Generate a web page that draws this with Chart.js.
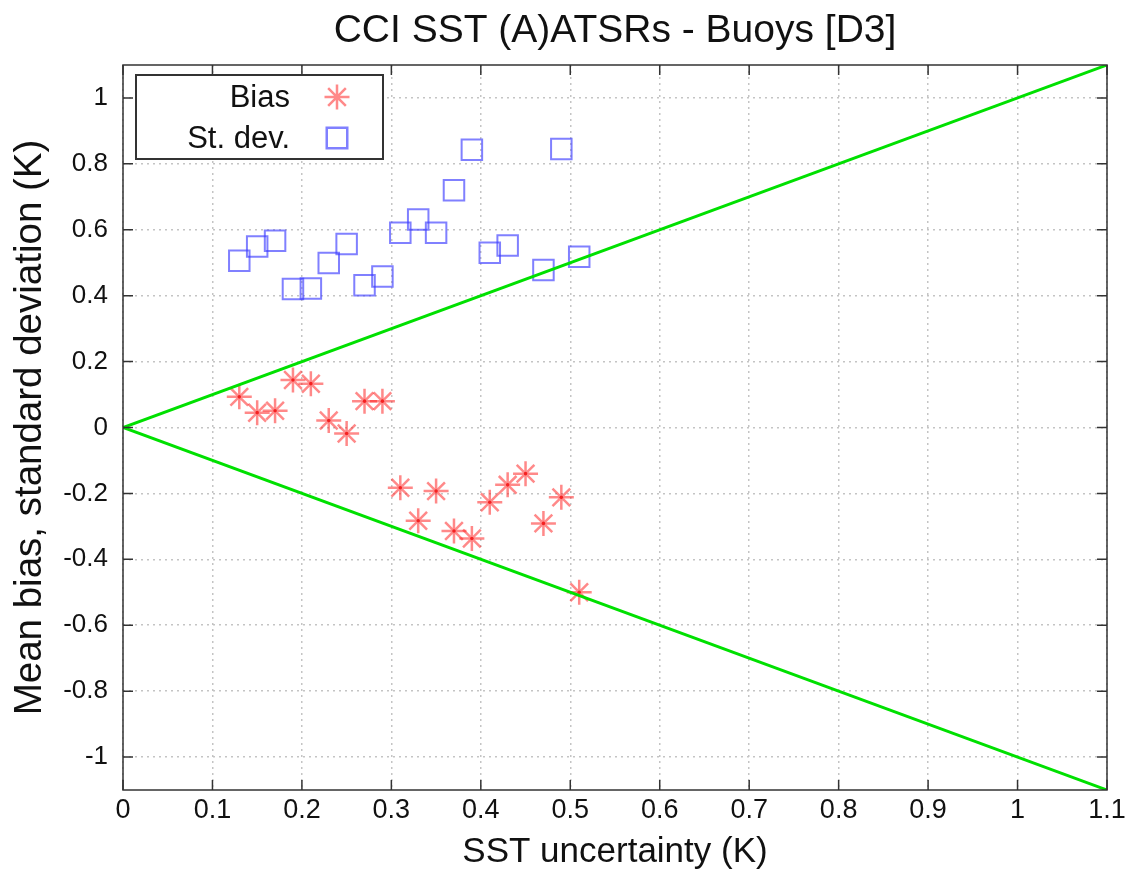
<!DOCTYPE html>
<html>
<head>
<meta charset="utf-8">
<script src="https://cdn.jsdelivr.net/npm/chart.js@4.4.1/dist/chart.umd.min.js"></script>
<style>
  html, body { margin: 0; padding: 0; background: #fff; }
  #wrap { width: 1132px; height: 870px; }
</style>
</head>
<body>
<div id="wrap"><canvas id="sst-chart" width="1132" height="870"></canvas></div>
<script>
// values
const chartTitle = 'CCI SST (A)ATSRs - Buoys [D3]';
const uncertainty = [0.13, 0.15, 0.17, 0.19, 0.21, 0.23, 0.25, 0.27, 0.29, 0.31,
                     0.33, 0.35, 0.37, 0.39, 0.41, 0.43, 0.45, 0.47, 0.49, 0.51];
const bias = [0.093, 0.045, 0.051, 0.144, 0.133, 0.021, -0.018, 0.080, 0.080, -0.183,
              -0.283, -0.193, -0.314, -0.337, -0.227, -0.174, -0.140, -0.291, -0.212, -0.500];
const stdDev = [0.506, 0.549, 0.567, 0.420, 0.422, 0.499, 0.557, 0.432, 0.458, 0.591,
                0.631, 0.591, 0.720, 0.843, 0.530, 0.552, null, 0.478, 0.845, 0.518];
const limitX = [0, 1.1];
const upperLimit = [0, 1.1];
const lowerLimit = [0, -1.1];
const xTicks = [0, 0.1, 0.2, 0.3, 0.4, 0.5, 0.6, 0.7, 0.8, 0.9, 1, 1.1];
const yTicks = [-1, -0.8, -0.6, -0.4, -0.2, 0, 0.2, 0.4, 0.6, 0.8, 1];

const FONT = '"Liberation Sans", Arial, sans-serif';
const BIAS_COLOR = 'rgba(255,40,40,0.55)';
const SD_COLOR = 'rgba(60,60,255,0.65)';

function toPoints(xs, ys) {
    return xs.map((x, i) => ({ x: x, y: ys[i] })).filter(p => p.y !== null);
}

function fmt(v) {
    return String(parseFloat(v.toFixed(1)));
}

// title centred over the plot area rather than the whole canvas
const titlePlugin = {
    id: 'plotTitle',
    afterDraw(chart) {
        const ctx = chart.ctx;
        const a = chart.chartArea;
        ctx.save();
        ctx.font = '39px ' + FONT;
        ctx.fillStyle = '#111';
        ctx.textAlign = 'center';
        ctx.textBaseline = 'middle';
        ctx.fillText(chartTitle, (a.left + a.right) / 2, 31);
        ctx.restore();
    }
};

// gnuplot style frame: border on all sides, ticks pointing inward
const framePlugin = {
    id: 'frame',
    afterDatasetsDraw(chart) {
        const ctx = chart.ctx;
        const a = chart.chartArea;
        const xs = chart.scales.x, ys = chart.scales.y;
        ctx.save();
        ctx.strokeStyle = '#333';
        ctx.lineWidth = 1.5;
        ctx.beginPath();
        xTicks.forEach(v => {
            const px = xs.getPixelForValue(v);
            ctx.moveTo(px, a.bottom); ctx.lineTo(px, a.bottom - 10);
            ctx.moveTo(px, a.top); ctx.lineTo(px, a.top + 10);
        });
        yTicks.forEach(v => {
            const py = ys.getPixelForValue(v);
            ctx.moveTo(a.left, py); ctx.lineTo(a.left + 10, py);
            ctx.moveTo(a.right, py); ctx.lineTo(a.right - 10, py);
        });
        ctx.stroke();
        ctx.strokeRect(a.left, a.top, a.right - a.left, a.bottom - a.top);
        ctx.restore();
    }
};

// key box in the top left corner, text right aligned with the symbol after it
const keyPlugin = {
    id: 'key',
    afterDraw(chart) {
        const ctx = chart.ctx;
        const a = chart.chartArea;
        const bx = a.left + 13, by = a.top + 10, bw = 247, bh = 84;
        ctx.save();
        ctx.fillStyle = '#fff';
        ctx.fillRect(bx, by, bw, bh);
        ctx.strokeStyle = '#333';
        ctx.lineWidth = 2;
        ctx.strokeRect(bx, by, bw, bh);

        ctx.font = '31px ' + FONT;
        ctx.textAlign = 'right';
        ctx.textBaseline = 'middle';
        const rows = [
            { label: 'Bias', style: 'star', radius: 12.5, color: BIAS_COLOR, y: by + 22 },
            { label: 'St. dev.', style: 'rect', radius: 14.5, color: SD_COLOR, y: by + 63 }
        ];
        rows.forEach(r => {
            ctx.fillStyle = '#111';
            ctx.fillText(r.label, bx + 154, r.y + 1);
            ctx.strokeStyle = r.color;
            ctx.fillStyle = 'rgba(0,0,0,0)';
            ctx.lineWidth = 2.5;
            Chart.helpers.drawPoint(ctx, { pointStyle: r.style, radius: r.radius, rotation: 0, borderWidth: 2.5 }, bx + 201, r.y);
        });
        ctx.restore();
    }
};

function createChart() {
    const ctx = document.getElementById('sst-chart');

    ctx.chartInstance = new Chart(ctx, {
        type: 'scatter',
        data: {
            datasets: [{
                label: 'y = x',
                data: toPoints(limitX, upperLimit),
                showLine: true,
                borderColor: '#00e000',
                borderWidth: 3,
                pointRadius: 0
            }, {
                label: 'y = -x',
                data: toPoints(limitX, lowerLimit),
                showLine: true,
                borderColor: '#00e000',
                borderWidth: 3,
                pointRadius: 0
            }, {
                label: 'Bias',
                data: toPoints(uncertainty, bias),
                pointStyle: 'star',
                pointRadius: 12.5,
                pointBorderWidth: 2.5,
                pointBorderColor: BIAS_COLOR,
                pointBackgroundColor: 'rgba(0,0,0,0)'
            }, {
                // darker centre dot of each asterisk
                label: 'Bias centre',
                data: toPoints(uncertainty, bias),
                pointStyle: 'circle',
                pointRadius: 1.8,
                pointBorderWidth: 0,
                pointBackgroundColor: 'rgba(230,0,0,0.9)'
            }, {
                label: 'St. dev.',
                data: toPoints(uncertainty, stdDev),
                pointStyle: 'rect',
                pointRadius: 14.5,
                pointBorderWidth: 2,
                pointBorderColor: SD_COLOR,
                pointBackgroundColor: 'rgba(0,0,0,0)'
            }]
        },
        options: {
            responsive: false,
            animation: false,
            devicePixelRatio: 1,
            events: [],
            layout: {
                padding: { left: 0, right: 25, top: 65, bottom: 0 }
            },
            scales: {
                x: {
                    type: 'linear',
                    min: 0,
                    max: 1.1,
                    afterBuildTicks: scale => { scale.ticks = xTicks.map(v => ({ value: v })); },
                    afterFit: scale => { scale.height = 80; },
                    grid: { color: '#c4c4c4', lineWidth: 1.5, drawTicks: false },
                    border: { display: false, dash: [2, 4] },
                    ticks: {
                        color: '#111',
                        padding: 4,
                        font: { family: FONT, size: 27 },
                        maxRotation: 0,
                        autoSkip: false,
                        callback: v => fmt(v)
                    },
                    title: {
                        display: true,
                        text: 'SST uncertainty (K)',
                        color: '#111',
                        font: { family: FONT, size: 35, lineHeight: 1 },
                        padding: { top: 0, bottom: 0 }
                    }
                },
                y: {
                    type: 'linear',
                    min: -1.1,
                    max: 1.1,
                    afterBuildTicks: scale => { scale.ticks = yTicks.map(v => ({ value: v })); },
                    afterFit: scale => { scale.width = 123; },
                    grid: { color: '#c4c4c4', lineWidth: 1.5, drawTicks: false },
                    border: { display: false, dash: [2, 4] },
                    ticks: {
                        color: '#111',
                        padding: 15,
                        font: { family: FONT, size: 26 },
                        autoSkip: false,
                        callback: v => fmt(v)
                    },
                    title: {
                        display: true,
                        text: 'Mean bias, standard deviation (K)',
                        color: '#111',
                        font: { family: FONT, size: 38.5, lineHeight: 1 },
                        padding: { top: 11, bottom: 0 }
                    }
                }
            },
            plugins: {
                legend: { display: false },
                tooltip: { enabled: false },
                title: { display: false }
            }
        },
        plugins: [framePlugin, keyPlugin, titlePlugin]
    });
}

createChart();
</script>
</body>
</html>
